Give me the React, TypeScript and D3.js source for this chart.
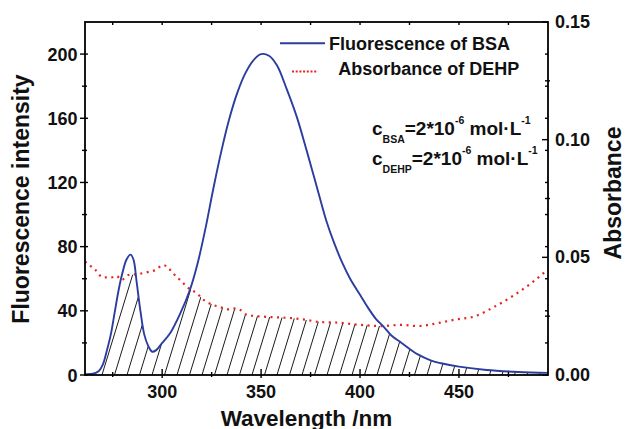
import React from "react";
import * as d3 from "d3";

// Fluorescence of BSA (left axis)
const fluorWavelength = [261, 265, 268, 270, 272, 274, 276, 278, 280, 282, 284, 285.5, 287, 289, 291, 293, 295, 297, 300, 304, 309, 314, 318, 322, 326, 330, 334, 338, 342, 346, 350, 354, 358, 363, 368, 373, 378, 383, 387, 391, 395, 400, 404, 408, 412, 416, 421, 429, 436, 441, 450, 464, 480, 495];
const fluorIntensity = [0.5, 0.8, 2.5, 6.5, 15, 25, 39, 53, 64, 72, 75, 72, 59, 40, 25, 18, 14.5, 15.5, 20, 26, 38, 53, 70, 92, 117, 140, 160, 176, 188, 196, 200, 199, 193, 178, 161, 140, 118, 96, 82, 70, 60, 50, 42, 35, 30, 24.5, 20, 13, 9, 7.3, 5.2, 3.1, 1.9, 1.3];

// Absorbance of DEHP (right axis)
const absWavelength = [261, 264, 266, 270, 274.5, 277, 279.5, 283, 287, 292, 296.5, 300.5, 302.5, 305.5, 309, 313.5, 317.5, 321, 326, 329.5, 333, 336, 339.5, 343, 346.5, 351, 358, 366.5, 373, 380, 390, 400, 411, 420.5, 429, 439, 449, 457.5, 467.5, 478, 486.5, 495];
const absValue = [0.0482, 0.0462, 0.0449, 0.0415, 0.0415, 0.0421, 0.0404, 0.0425, 0.0428, 0.0436, 0.0446, 0.0467, 0.046, 0.0432, 0.0404, 0.0368, 0.0347, 0.0319, 0.0297, 0.0288, 0.0279, 0.0283, 0.0276, 0.0255, 0.0251, 0.0248, 0.0245, 0.0241, 0.0234, 0.0225, 0.0222, 0.0213, 0.0208, 0.0213, 0.0208, 0.022, 0.0237, 0.0248, 0.0288, 0.034, 0.039, 0.0449];

const xMajorTicks = [300, 350, 400, 450];
const xMinorTicks = [275, 325, 375, 425, 475];
const leftMajorTicks = [0, 40, 80, 120, 160, 200];
const leftMinorTicks = [20, 60, 100, 140, 180];
const rightMajorTicks = [0, 0.05, 0.1, 0.15];
const rightMinorTicks = [0.025, 0.075, 0.125];
const legendLabels = ["Fluorescence of BSA", "Absorbance of DEHP"];

const W = 625;
const H = 429;
const L = 85, R = 548, T = 22, B = 375;
const FONT = "'Liberation Sans', Arial, Helvetica, sans-serif";
const BLUE = "#2b3d9e";
const RED = "#e3241d";
const HATCH_STEP = 12.5;
const HATCH_SLANT = 0.306; // dx per dy of hatch lines

export default function App() {
  const x = d3.scaleLinear().domain([261, 495]).range([L, R]);
  const yL = d3.scaleLinear().domain([0, 220]).range([B, T]);
  const yR = d3.scaleLinear().domain([0, 0.15]).range([B, T]);

  const fluorData = fluorWavelength.map((w, i) => [w, fluorIntensity[i]] as [number, number]);
  const absData = absWavelength.map((w, i) => [w, absValue[i]] as [number, number]);

  const fluorLine = d3.line<[number, number]>().x(d => x(d[0])).y(d => yL(d[1])).curve(d3.curveCatmullRom.alpha(0.5))(fluorData) || "";
  const absLine = d3.line<[number, number]>().x(d => x(d[0])).y(d => yR(d[1])).curve(d3.curveMonotoneX)(absData) || "";

  const fInterp = d3.scaleLinear().domain(fluorWavelength).range(fluorIntensity).clamp(true);
  const aInterp = d3.scaleLinear().domain(absWavelength).range(absValue).clamp(true);
  const grid = d3.range(261, 495.01, 0.5);
  const overlap = d3.area<number>()
    .x(w => x(w))
    .y0(yL(0))
    .y1(w => Math.max(yL(fInterp(w)), yR(aInterp(w))))(grid) || "";

  const hatchStarts = d3.range(L - (B - T) * HATCH_SLANT, R, HATCH_STEP);

  const tickStroke = { stroke: "#000", strokeWidth: 1.4 };

  return (
    <div style={{ position: "fixed", left: 0, top: 0, width: W, height: H, background: "#fff" }}>
      <svg width={W} height={H} style={{ display: "block" }} fontFamily={FONT} fontWeight="bold">
        <defs>
          <clipPath id="plotClip">
            <rect x={L} y={T} width={R - L} height={B - T} />
          </clipPath>
          <clipPath id="overlapClip">
            <path d={overlap} />
          </clipPath>
        </defs>

        {/* hatched overlap region */}
        <g clipPath="url(#overlapClip)">
          {hatchStarts.map((x0, i) => (
            <line key={"h" + i} x1={x0} y1={B} x2={x0 + (B - T) * HATCH_SLANT} y2={T} stroke="#000" strokeWidth={0.9} />
          ))}
        </g>

        {/* curves */}
        <g clipPath="url(#plotClip)">
          <path d={absLine} fill="none" stroke={RED} strokeWidth={2.2} strokeDasharray="2 4.5" />
          <path d={fluorLine} fill="none" stroke={BLUE} strokeWidth={1.9} />
        </g>

        {/* frame */}
        <rect x={L} y={T} width={R - L} height={B - T} fill="none" stroke="#000" strokeWidth={1.8} />

        {/* bottom axis ticks */}
        {xMajorTicks.map(t => (
          <line key={"xM" + t} x1={x(t)} x2={x(t)} y1={B - 6} y2={B + 3} {...tickStroke} />
        ))}
        {xMinorTicks.map(t => (
          <line key={"xm" + t} x1={x(t)} x2={x(t)} y1={B - 3} y2={B + 2} {...tickStroke} />
        ))}
        {/* top axis ticks */}
        {[...xMajorTicks, ...xMinorTicks].map(t => (
          <line key={"xt" + t} x1={x(t)} x2={x(t)} y1={T} y2={T + 3} {...tickStroke} />
        ))}
        {xMajorTicks.map(t => (
          <text key={"xl" + t} x={x(t)} y={397.5} textAnchor="middle" fontSize={18} fill="#111">{t}</text>
        ))}

        {/* left axis */}
        {leftMajorTicks.map(t => (
          <line key={"lM" + t} x1={L - 5} x2={L + 3} y1={yL(t)} y2={yL(t)} {...tickStroke} />
        ))}
        {leftMinorTicks.map(t => (
          <line key={"lm" + t} x1={L - 3} x2={L + 2} y1={yL(t)} y2={yL(t)} {...tickStroke} />
        ))}
        {leftMajorTicks.map(t => (
          <text key={"ll" + t} x={77.5} y={yL(t) + 6.5} textAnchor="end" fontSize={18} fill="#111">{t}</text>
        ))}
        {/* mirrored left ticks on right side */}
        {[...leftMajorTicks, ...leftMinorTicks].map(t => (
          <line key={"lr" + t} x1={R - 3} x2={R} y1={yL(t)} y2={yL(t)} {...tickStroke} />
        ))}

        {/* right axis */}
        {rightMajorTicks.map(t => (
          <line key={"rM" + t} x1={R - 6} x2={R} y1={yR(t)} y2={yR(t)} {...tickStroke} />
        ))}
        {rightMinorTicks.map(t => (
          <line key={"rm" + t} x1={R - 3} x2={R + 2} y1={yR(t)} y2={yR(t)} {...tickStroke} />
        ))}
        {rightMajorTicks.map(t => (
          <text key={"rl" + t} x={555} y={yR(t) + 6} textAnchor="start" fontSize={18} fill="#111">{d3.format(".2f")(t)}</text>
        ))}

        {/* axis titles */}
        <text x={306.5} y={425.5} textAnchor="middle" fontSize={22.5} fill="#111">Wavelength /nm</text>
        <text transform="translate(29,199) rotate(-90)" textAnchor="middle" fontSize={23} fill="#111">Fluorescence intensity</text>
        <text transform="translate(620.5,193) rotate(-90)" textAnchor="middle" fontSize={23} fill="#111">Absorbance</text>

        {/* legend */}
        <line x1={280} x2={325} y1={43.3} y2={43.3} stroke={BLUE} strokeWidth={1.9} />
        <text x={329} y={50} fontSize={18} fill="#111">{legendLabels[0]}</text>
        <line x1={292} x2={318} y1={71.5} y2={71.5} stroke={RED} strokeWidth={2.2} strokeDasharray="2 1.7" />
        <text x={338.3} y={75} fontSize={18} fill="#111">{legendLabels[1]}</text>

        {/* concentration annotation */}
        <text x={372} y={135} fontSize={19} fill="#111">
          c<tspan fontSize={10.5} dy={8.3}>BSA</tspan>
          <tspan dy={-8.3}>=2*10</tspan>
          <tspan fontSize={10.5} dy={-11}>-6</tspan>
          <tspan dy={11}>{" mol·L"}</tspan>
          <tspan fontSize={10.5} dy={-11}>-1</tspan>
        </text>
        <text x={372} y={165} fontSize={19} fill="#111">
          c<tspan fontSize={10.5} dy={8.3}>DEHP</tspan>
          <tspan dy={-8.3}>=2*10</tspan>
          <tspan fontSize={10.5} dy={-11}>-6</tspan>
          <tspan dy={11}>{" mol·L"}</tspan>
          <tspan fontSize={10.5} dy={-11}>-1</tspan>
        </text>
      </svg>
    </div>
  );
}
